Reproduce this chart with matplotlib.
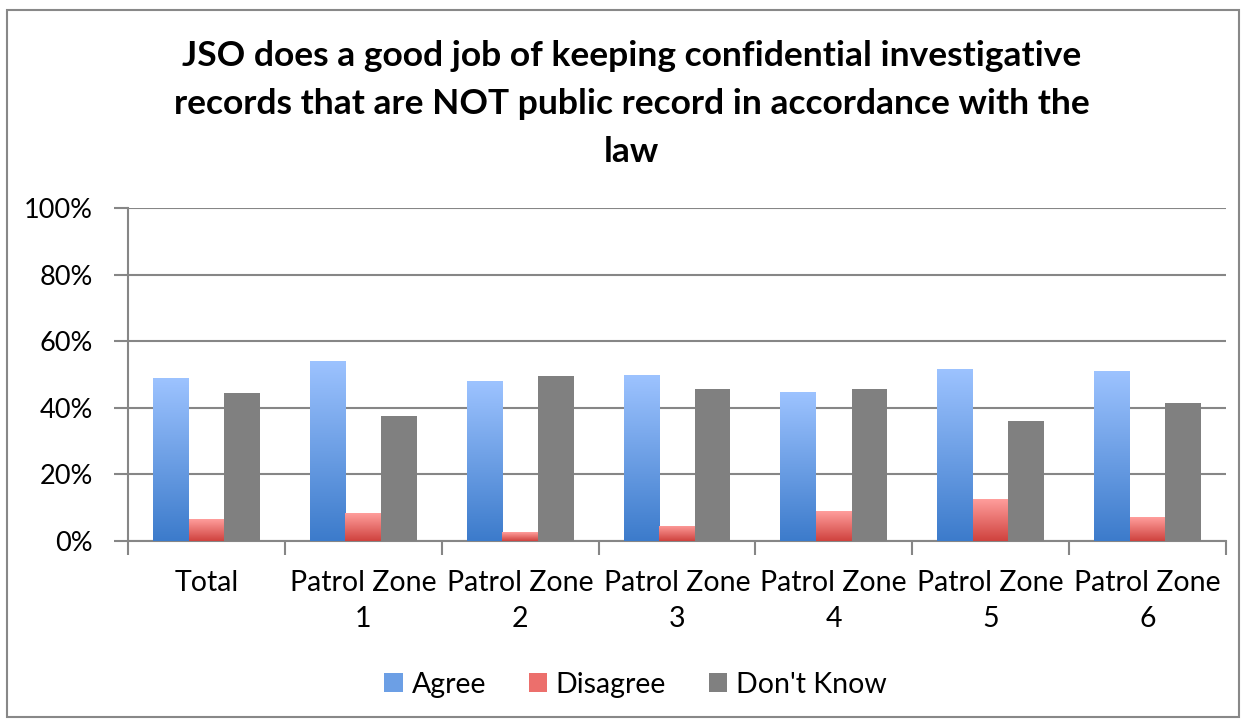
import numpy as np
import matplotlib.pyplot as plt
from matplotlib.colors import LinearSegmentedColormap
from matplotlib.patches import Rectangle, Patch

categories = ["Total", "Patrol Zone\n1", "Patrol Zone\n2", "Patrol Zone\n3",
              "Patrol Zone\n4", "Patrol Zone\n5", "Patrol Zone\n6"]
agree = [48.9, 54.1, 48.0, 49.8, 44.7, 51.7, 51.1]
disagree = [6.6, 8.4, 2.7, 4.6, 9.0, 12.6, 7.2]
dont_know = [44.4, 37.5, 49.5, 45.6, 45.5, 35.9, 41.5]

plt.rcParams['font.family'] = ['Lato', 'DejaVu Sans']

fig = plt.figure(figsize=(12.46, 7.21), dpi=100)
ax = fig.add_axes([0.1027, 0.2497, 0.8812, 0.4618])

# outer chart border
fig.patches.append(Rectangle((0.006, 0.006), 0.988, 0.98, transform=fig.transFigure,
                             fill=False, edgecolor='#888888', linewidth=1.5))

blue_cm = LinearSegmentedColormap.from_list('b', ['#3C7BCB', '#9DC3FF'])
red_cm = LinearSegmentedColormap.from_list('r', ['#CF423E', '#FF9E9C'])
grad = np.linspace(0, 1, 256).reshape(-1, 1)

x = np.arange(len(categories))
w = 0.227

def gradient_bars(xs, vals, cmap):
    bars = ax.bar(xs, vals, w, facecolor='none', edgecolor='none', zorder=3)
    for b in bars:
        x0 = b.get_x()
        im = ax.imshow(grad, cmap=cmap, origin='lower', aspect='auto',
                       extent=[x0, x0 + b.get_width(), 0, b.get_height()], zorder=3)
        im.set_clip_path(b)
    return bars

gradient_bars(x - w, agree, blue_cm)
gradient_bars(x, disagree, red_cm)
ax.bar(x + w, dont_know, w, color='#808080', zorder=3)

ax.set_xlim(-0.5, len(categories) - 0.5)
ax.set_ylim(0, 100)
ax.set_yticks(range(0, 101, 20))
ax.set_yticklabels([f"{v}%" for v in range(0, 101, 20)], fontsize=19.5)
ax.yaxis.grid(True, color='#868686', linewidth=1.5, zorder=0)
ax.set_axisbelow(True)

ax.set_xticks(np.arange(-0.5, len(categories), 1))
ax.set_xticklabels([])
ax.set_xticks(x, minor=True)
ax.set_xticklabels(categories, minor=True, fontsize=20.5, linespacing=1.45)
ax.tick_params(axis='x', which='minor', length=0, pad=21)
ax.tick_params(axis='x', which='major', length=10, color='#868686', width=1.5)
ax.tick_params(axis='y', length=10, color='#868686', width=1.5, pad=15)

for s in ['top', 'right']:
    ax.spines[s].set_visible(False)
for s in ['left', 'bottom']:
    ax.spines[s].set_color('#868686')
    ax.spines[s].set_linewidth(1.5)

fig.text(0.507, 0.945, "JSO does a good job of keeping confidential investigative\n"
         "records that are NOT public record in accordance with the\nlaw",
         ha='center', va='top', fontsize=25.5, fontweight='bold', linespacing=1.62)

handles = [Patch(facecolor='#6C9FE5'), Patch(facecolor='#EC6F6C'), Patch(facecolor='#808080')]
fig.legend(handles, ["Agree", "Disagree", "Don't Know"], loc='center',
           bbox_to_anchor=(0.51, 0.05), ncol=3, frameon=False, fontsize=20.5,
           handlelength=0.65, handleheight=0.65, columnspacing=1.5, handletextpad=0.3)

fig.savefig('out.png', dpi=100)
